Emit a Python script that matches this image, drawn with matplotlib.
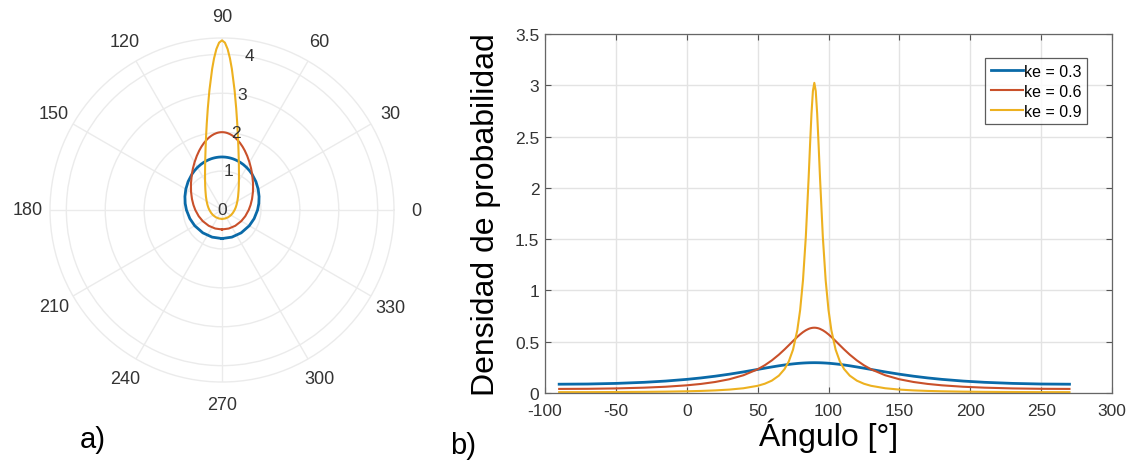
import numpy as np
import matplotlib
matplotlib.use("Agg")
import matplotlib.pyplot as plt

plt.rcParams['font.family'] = ['Liberation Sans', 'DejaVu Sans']

# ---------------- data ----------------
angulo = [-90, -70, -50, -30, -15, 0, 10, 20, 30, 40, 50, 55, 60, 65, 69, 72, 75, 78,
          80, 82, 84, 86, 87, 88, 89, 90, 91, 92, 93, 94, 96, 98, 100, 102, 105, 108, 111,
          115, 120, 125, 130, 140, 150, 160, 170, 180, 195, 210, 230, 250, 270]

dens_03 = [0.0857, 0.0876, 0.0935, 0.1042, 0.1163, 0.1329, 0.1469, 0.1637, 0.1833, 0.2056,
           0.2297, 0.2420, 0.2539, 0.2652, 0.2733, 0.2789, 0.2837, 0.2879, 0.2902, 0.2921,
           0.2936, 0.2947, 0.2951, 0.2953, 0.2955, 0.2956, 0.2955, 0.2953, 0.2951, 0.2947,
           0.2936, 0.2921, 0.2902, 0.2879,
           0.2837, 0.2789, 0.2733, 0.2652, 0.2539, 0.2420, 0.2297, 0.2056, 0.1833, 0.1637,
           0.1469, 0.1329, 0.1163, 0.1042, 0.0935, 0.0876, 0.0857]
dens_06 = [0.0398, 0.0409, 0.0447, 0.0520, 0.0610, 0.0749, 0.0884, 0.1073, 0.1340, 0.1730,
           0.2311, 0.2702, 0.3176, 0.3739, 0.4250, 0.4657, 0.5071, 0.5470, 0.5715, 0.5933,
           0.6115, 0.6252, 0.6302, 0.6337, 0.6359, 0.6366, 0.6359, 0.6337, 0.6302, 0.6252,
           0.6115, 0.5933, 0.5715, 0.5470,
           0.5071, 0.4657, 0.4250, 0.3739, 0.3176, 0.2702, 0.2311, 0.1730, 0.1340, 0.1073,
           0.0884, 0.0749, 0.0610, 0.0520, 0.0447, 0.0409, 0.0398]
dens_09 = [0.0084, 0.0086, 0.0095, 0.0112, 0.0133, 0.0167, 0.0202, 0.0253, 0.0332, 0.0463,
           0.0701, 0.0901, 0.1204, 0.1693, 0.2334, 0.3083, 0.4239, 0.6130, 0.8098, 1.0992,
           1.5226, 2.1014, 2.4250, 2.7252, 2.9444, 3.0239, 2.9444, 2.7252, 2.4250, 2.1014,
           1.5226, 1.0992, 0.8098, 0.6130,
           0.4239, 0.3083, 0.2334, 0.1693, 0.1204, 0.0901, 0.0701, 0.0463, 0.0332, 0.0253,
           0.0202, 0.0167, 0.0133, 0.0112, 0.0095, 0.0086, 0.0084]

polar_03 = [0.7338, 0.7419, 0.7665, 0.8091, 0.8548, 0.9138, 0.9607, 1.0142, 1.0732, 1.1366,
            1.2014, 1.2331, 1.2631, 1.2908, 1.3104, 1.3238, 1.3351, 1.3450, 1.3503, 1.3547,
            1.3582, 1.3608, 1.3616, 1.3621, 1.3627, 1.3628, 1.3627, 1.3621, 1.3616, 1.3608,
            1.3582, 1.3547, 1.3503, 1.3450,
            1.3351, 1.3238, 1.3104, 1.2908, 1.2631, 1.2331, 1.2014, 1.1366, 1.0732, 1.0142,
            0.9607, 0.9138, 0.8548, 0.8091, 0.7665, 0.7419, 0.7338]
polar_06 = [0.5000, 0.5070, 0.5300, 0.5716, 0.6191, 0.6860, 0.7453, 0.8211, 0.9176, 1.0426,
            1.2050, 1.3030, 1.4126, 1.5328, 1.6341, 1.7106, 1.7850, 1.8539, 1.8950, 1.9307,
            1.9601, 1.9820, 1.9898, 1.9954, 1.9989, 2.0000, 1.9989, 1.9954, 1.9898, 1.9820,
            1.9601, 1.9307, 1.8950, 1.8539,
            1.7850, 1.7106, 1.6341, 1.5328, 1.4126, 1.3030, 1.2050, 1.0426, 0.9176, 0.8211,
            0.7453, 0.6860, 0.6191, 0.5716, 0.5300, 0.5070, 0.5000]
polar_09 = [0.2297, 0.2325, 0.2443, 0.2653, 0.2891, 0.3239, 0.3563, 0.3987, 0.4567, 0.5394,
            0.6637, 0.7524, 0.8698, 1.0314, 1.2110, 1.3918, 1.6320, 1.9626, 2.2557, 2.6280,
            3.0930, 3.6337, 3.9030, 4.1380, 4.3010, 4.3589, 4.3010, 4.1380, 3.9030, 3.6337,
            3.0930, 2.6280, 2.2557, 1.9626,
            1.6320, 1.3918, 1.2110, 1.0314, 0.8698, 0.7524, 0.6637, 0.5394, 0.4567, 0.3987,
            0.3563, 0.3239, 0.2891, 0.2653, 0.2443, 0.2325, 0.2297]

series_labels = ['ke = 0.3', 'ke = 0.6', 'ke = 0.9']
colors = ['#0a6aa8', '#c9502a', '#EDB120']
widths = [2.0, 1.5, 1.5]

xticks = [-100, -50, 0, 50, 100, 150, 200, 250, 300]
yticks = [0, 0.5, 1, 1.5, 2, 2.5, 3, 3.5]
ytick_labels = ['0', '0.5', '1', '1.5', '2', '2.5', '3', '3.5']
theta_ticks = [0, 30, 60, 90, 120, 150, 180, 210, 240, 270, 300, 330]
r_ticks = [0, 1, 2, 3, 4]

W, H = 1137, 464
fig = plt.figure(figsize=(W / 100, H / 100), dpi=100)
txt_col = '#333333'

# ---------------- polar plot ----------------
cx, cy, R = 222, 211, 172
RMAX = 4.42
axp = fig.add_axes([(cx - R) / W, (H - cy - R) / H, 2 * R / W, 2 * R / H], projection='polar')
th = np.deg2rad(angulo)
for r, c, lw in zip([polar_03, polar_06, polar_09], colors, widths):
    axp.plot(th, r, color=c, lw=lw)
axp.set_ylim(0, RMAX)
axp.set_rticks(r_ticks)
axp.set_yticklabels([])
axp.set_thetagrids(theta_ticks, [''] * len(theta_ticks))
axp.grid(True, color='#ebebeb', lw=1.0)
axp.spines['polar'].set_color('#ebebeb')
axp.spines['polar'].set_linewidth(1.0)
lab_r = RMAX * 194 / R
for t in theta_ticks:
    axp.text(np.deg2rad(t), lab_r, str(t), ha='center', va='center',
             fontsize=13, color=txt_col, clip_on=False)
for v in r_ticks:
    axp.text(np.deg2rad(80), v + 0.02, str(v), ha='center', va='center',
             fontsize=12.5, color=txt_col)

# ---------------- cartesian plot ----------------
left, right, top, bottom = 545, 1112, 35, 394
ax = fig.add_axes([left / W, (H - bottom) / H, (right - left) / W, (bottom - top) / H])
for y, c, lw, lab in zip([dens_03, dens_06, dens_09], colors, widths, series_labels):
    ax.plot(angulo, y, color=c, lw=lw, label=lab)
ax.set_xlim(-100, 300)
ax.set_ylim(0, 3.5)
ax.set_xticks(xticks)
ax.set_xticklabels([str(v) for v in xticks], fontsize=12.5, color=txt_col)
ax.set_yticks(yticks)
ax.set_yticklabels(ytick_labels, fontsize=12.5, color=txt_col)
ax.grid(True, color='#e3e3e3', lw=1.0)
ax.set_axisbelow(True)
ax.tick_params(direction='in', length=4, width=0.8, color='#555555', top=True, right=True)
ax.tick_params(axis='x', pad=7)
ax.tick_params(axis='y', pad=4)
for s in ax.spines.values():
    s.set_color('#666666')
    s.set_linewidth(0.9)
ax.set_ylabel('Densidad de probabilidad', fontsize=23, color='black', labelpad=10)
ax.set_xlabel('Ángulo [°]', fontsize=23, color='black', labelpad=0)
leg = ax.legend(loc='upper left', bbox_to_anchor=(0.776, 0.932), fontsize=11.5,
                frameon=True, fancybox=False, handlelength=2.0, handletextpad=0.1,
                borderpad=0.35, labelspacing=0.3, borderaxespad=0)
leg.get_frame().set_edgecolor('#333333')
leg.get_frame().set_linewidth(0.9)

fig.text(80 / W, 1 - 440 / H, 'a)', fontsize=21, va='center', ha='left')
fig.text(450 / W, 1 - 446 / H, 'b)', fontsize=21, va='center', ha='left')

fig.savefig('out.png', dpi=100)
